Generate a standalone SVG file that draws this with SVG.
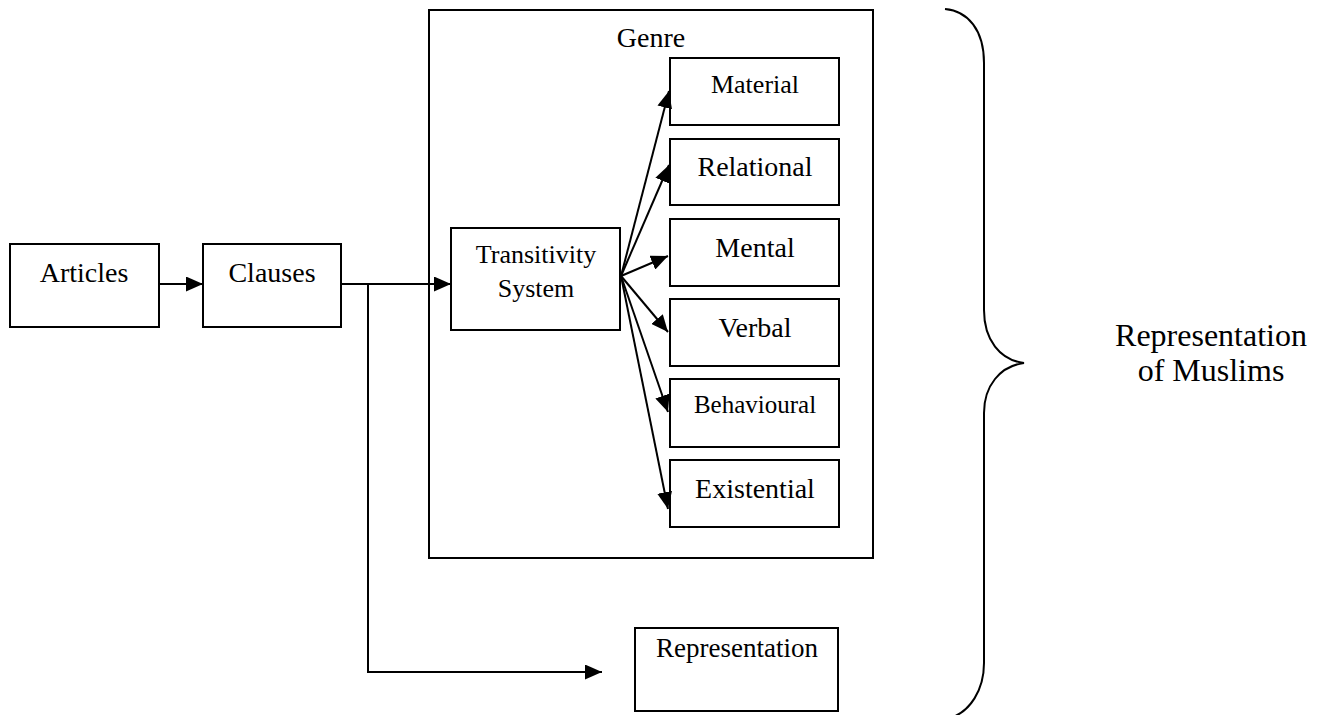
<svg xmlns="http://www.w3.org/2000/svg" width="1319" height="715" viewBox="0 0 1319 715">
<style>
.box{fill:#fff;stroke:#000;stroke-width:2}
.t{font-family:'Liberation Serif','Times New Roman','DejaVu Serif','Noto Serif',serif;fill:#000;text-anchor:middle}
.c{fill:none;stroke:#000;stroke-width:2}
</style>
<defs>
<marker id="ah" markerUnits="userSpaceOnUse" markerWidth="17" markerHeight="15" refX="17" refY="7.5" orient="auto">
<path d="M0,0 L17,7.5 L0,15 z" fill="#000"/>
</marker>
</defs>
<rect width="1319" height="715" fill="#fff"/>
<g id="genre">
<rect class="box" x="429" y="10" width="444" height="548"/>
<text class="t" x="651" y="47" font-size="28">Genre</text>
</g>
<g id="articles">
<rect class="box" x="10" y="244" width="149" height="83"/>
<text class="t" x="84" y="282" font-size="28">Articles</text>
</g>
<g id="clauses">
<rect class="box" x="203" y="244" width="138" height="83"/>
<text class="t" x="272" y="282" font-size="28">Clauses</text>
</g>
<g id="transitivity">
<rect class="box" x="451" y="228" width="169" height="102"/>
<text class="t" x="536" y="263" font-size="26">Transitivity</text>
<text class="t" x="536" y="297" font-size="26">System</text>
</g>
<g id="material">
<rect class="box" x="670" y="58" width="169" height="67"/>
<text class="t" x="755" y="93" font-size="26">Material</text>
</g>
<g id="relational">
<rect class="box" x="670" y="139" width="169" height="66"/>
<text class="t" x="755" y="176" font-size="28">Relational</text>
</g>
<g id="mental">
<rect class="box" x="670" y="219" width="169" height="67"/>
<text class="t" x="755" y="257" font-size="28">Mental</text>
</g>
<g id="verbal">
<rect class="box" x="670" y="299" width="169" height="67"/>
<text class="t" x="755" y="337" font-size="28">Verbal</text>
</g>
<g id="behavioural">
<rect class="box" x="670" y="379" width="169" height="68"/>
<text class="t" x="755" y="413" font-size="25">Behavioural</text>
</g>
<g id="existential">
<rect class="box" x="670" y="460" width="169" height="67"/>
<text class="t" x="755" y="498" font-size="28">Existential</text>
</g>
<g id="representation">
<rect class="box" x="635" y="628" width="203" height="83"/>
<text class="t" x="737" y="657" font-size="27">Representation</text>
</g>
<g id="muslims">
<path class="c" d="M945,9 C968,11 984,30 984,63 L984,310 C984,340 1000,360 1024,363 C1000,366 984,386 984,413 L984,663 C984,690 970,712 950,718"/>
<text class="t" x="1211" y="346" font-size="32">Representation</text>
<text class="t" x="1211" y="381" font-size="32">of Muslims</text>
</g>
<g id="connectors">
<line class="c" x1="159" y1="284" x2="203" y2="284" marker-end="url(#ah)"/>
<line class="c" x1="341" y1="284" x2="451" y2="284" marker-end="url(#ah)"/>
<polyline class="c" points="368,284 368,672 602,672" marker-end="url(#ah)"/>
<line class="c" x1="621" y1="276" x2="669" y2="91" marker-end="url(#ah)"/>
<line class="c" x1="621" y1="276" x2="669" y2="165" marker-end="url(#ah)"/>
<line class="c" x1="621" y1="276" x2="668" y2="256" marker-end="url(#ah)"/>
<line class="c" x1="621" y1="276" x2="668" y2="332" marker-end="url(#ah)"/>
<line class="c" x1="621" y1="276" x2="668" y2="412" marker-end="url(#ah)"/>
<line class="c" x1="621" y1="276" x2="668" y2="509" marker-end="url(#ah)"/>
</g>
</svg>
